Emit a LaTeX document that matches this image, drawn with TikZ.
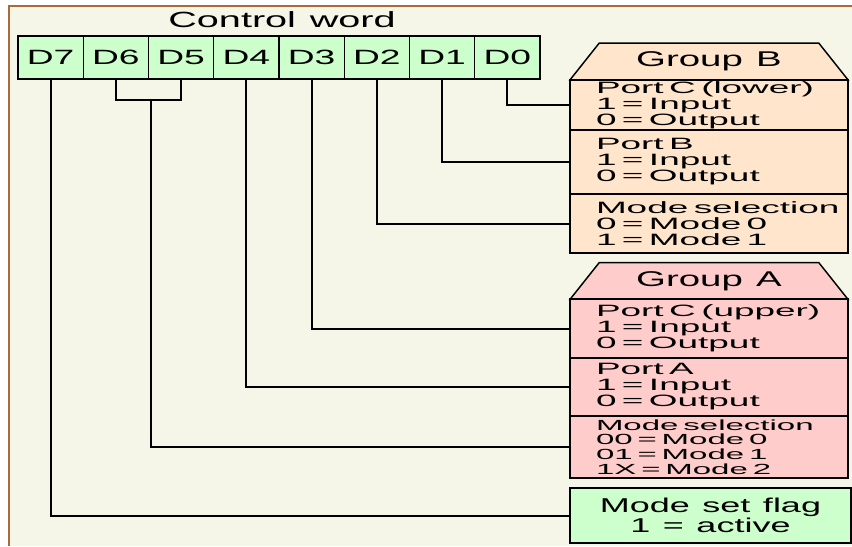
\documentclass[tikz,border=0pt]{standalone}
\usepackage{fontspec}
\usepackage{xcolor}
\usetikzlibrary{shapes.geometric}
\setmainfont{Liberation Sans}
\newfontfamily\labfont[FakeStretch=1.8,WordSpace=1.25]{Liberation Sans}
\newfontfamily\txtfont[FakeStretch=2.25]{Liberation Sans}
\newcommand\nohyph{\hyphenpenalty 10000\spaceskip 8pt\relax}
\definecolor{paper}{RGB}{245,245,232}
\definecolor{frame}{RGB}{166,108,58}
\definecolor{bitgreen}{RGB}{204,255,204}
\definecolor{peach}{RGB}{255,229,204}
\definecolor{rose}{RGB}{255,204,204}

\begin{document}
\begin{tikzpicture}[x=0.75pt,y=-0.75pt,
	bit/.style={draw,line width=1.1pt,fill=bitgreen,minimum width=48.94pt,minimum height=32.25pt,inner sep=0pt,font=\labfont\fontsize{15.5}{16}\selectfont},
	head/.style={draw,line width=1.1pt,trapezium,trapezium angle=45,trapezium stretches=true,minimum width=208.5pt,minimum height=27.5pt,inner sep=0pt,font=\labfont\fontsize{16}{16}\selectfont},
	sect/.style={draw,line width=1.1pt,minimum width=208.5pt,inner xsep=19.5pt,inner ysep=0pt,text width=169.5pt,align=left,font=\txtfont\fontsize{12.3}{12}\selectfont\nohyph},
	wire/.style={line width=1.5pt,black}]
	\useasboundingbox (0,0) rectangle (852,546);
	\fill[white] (0,0) rectangle (852,546);
	\fill[paper] (9,6) rectangle (852,546);
	\draw[frame,line width=1.5pt] (9,546) -- (9,6) -- (852,6);

	\node[font=\labfont\fontsize{16.5}{17}\selectfont] (title) at (282,20) {Control word};

	% Bits of the word
	\foreach \b [count=\i from 0] in {7,6,...,0}
		\node[bit] (d\b) at ({18+65.25*(\i+0.5)},57.5) {D\b};

	% Group B
	\node[head,fill=peach] (grpb) at (709,61.5) {Group B};
	\node[sect,fill=peach,minimum height=37.5pt] (pcl) at (709,105) {\mbox{Port C (lower)}\\1 = Input\\0 = Output};
	\node[sect,fill=peach,minimum height=48pt] (pb) at (709,162) {Port B\\1 = Input\\0 = Output};
	\node[sect,fill=peach,minimum height=44.25pt] (msb) at (709,223.5) {\mbox{Mode selection}\\0 = Mode 0\\1 = Mode 1};

	% Group A
	\node[head,fill=rose] (grpa) at (709,281) {Group A};
	\node[sect,fill=rose,minimum height=44.25pt] (pcu) at (709,328.5) {\mbox{Port C (upper)}\\1 = Input\\0 = Output};
	\node[sect,fill=rose,minimum height=43.5pt] (pa) at (709,387) {Port A\\1 = Input\\0 = Output};
	\node[sect,fill=rose,minimum height=46.5pt,font=\txtfont\fontsize{11}{11}\selectfont\nohyph] (msa) at (709,447) {\mbox{Mode selection}\\00 = Mode 0\\01 = Mode 1\\1X = Mode 2};

	\node[draw,line width=1.1pt,fill=bitgreen,minimum width=210.75pt,minimum height=41.25pt,align=center,font=\labfont\fontsize{15}{13.5}\selectfont] (flag) at (710.5,515.5) {Mode set flag\\1 = active};

	% Wires
	\draw[wire] (d0.south) |- (pcl.west);
	\draw[wire] (d1.south) |- (pb.west);
	\draw[wire] (d2.south) |- (msb.west);
	\draw[wire] (d3.south) |- (pcu.west);
	\draw[wire] (d4.south) |- (pa.west);
	\coordinate (j65) at (151,100);
	\draw[wire] (d6.south) |- (j65) -| (d5.south);
	\draw[wire] (j65) |- (msa.west);
	\draw[wire] (d7.south) |- (flag.west);
\end{tikzpicture}
\end{document}
